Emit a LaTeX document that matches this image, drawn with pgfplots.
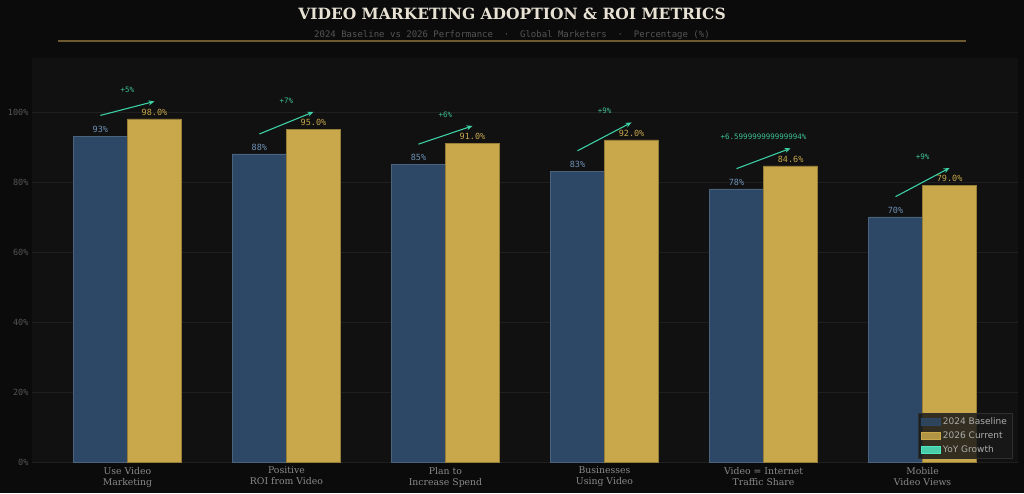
\documentclass[border=0pt]{standalone}
\usepackage{fontspec}
\setmainfont{DejaVu Serif}
\newfontfamily\monofont{DejaVu Sans Mono}
\newfontfamily\sansfont{DejaVu Sans}
\usepackage{pgfplots}
\pgfplotsset{compat=1.18}
\usepackage{pgfplotstable}
\usetikzlibrary{arrows.meta}

\definecolor{bgouter}{HTML}{0B0B0B}
\definecolor{bgplot}{HTML}{111111}
\definecolor{gridc}{HTML}{1F1F1F}
\definecolor{bluebar}{HTML}{2C4866}
\definecolor{goldbar}{HTML}{C8A84B}
\definecolor{bluelab}{HTML}{6F93B9}
\definecolor{goldlab}{HTML}{C8A84B}
\definecolor{tealarrow}{HTML}{3CCFA4}
\definecolor{teallab}{HTML}{3DBF96}
\definecolor{tealleg}{HTML}{4DE8C0}
\definecolor{titlec}{HTML}{E8E2D4}
\definecolor{subc}{HTML}{555555}
\definecolor{goldline}{HTML}{6E5A30}
\definecolor{tickc}{HTML}{555555}
\definecolor{xlabc}{HTML}{8A8A8A}

\pgfplotstableread{
x base cur
0 93 98
1 88 95
2 85 91
3 83 92
4 78 84.6
5 70 79
}\bars

\pgfplotstableread{
x y u v
-0.17 99 0.34 4
0.83 93.7 0.34 6.3
1.83 90.8 0.34 5.2
2.83 88.9 0.34 8.1
3.83 83.8 0.34 5.8
4.83 75.8 0.34 8.2
}\arrows

\pgfplotstableread{
x y lab
0 106.3 +5
1 103.1 +7
2 99.3 +6
3 100.3 +9
4 92.9 +6.599999999999994
5 87.3 +9
}\growth

\begin{document}
\begin{tikzpicture}[x=1pt,y=1pt]
\fill[bgouter] (0,0) rectangle (1024,493);
\path[use as bounding box] (0,0) rectangle (1024,493);
\node[font=\bfseries\fontsize{15.5}{18}\selectfont, text=titlec] at (512,479) {VIDEO MARKETING ADOPTION \& ROI METRICS};
\node[font=\monofont\fontsize{9}{11}\selectfont, text=subc] at (512,458) {2024 Baseline vs 2026 Performance \ · \ Global Marketers \ · \ Percentage (\%)};
\draw[goldline, line width=2pt] (58,452) -- (966,452);
\begin{axis}[
  at={(32pt,31pt)}, anchor=south west,
  scale only axis, width=986pt, height=404pt,
  xmin=-0.6, xmax=5.6, ymin=0, ymax=115.4,
  axis background/.style={fill=bgplot},
  axis line style={draw=none},
  major tick length=0pt,
  ymajorgrids, major grid style={gridc, line width=0.8pt},
  ytick={0,20,40,60,80,100},
  yticklabels={0\%,20\%,40\%,60\%,80\%,100\%},
  yticklabel style={font=\monofont\fontsize{8.5}{10}\selectfont, text=tickc},
  xtick={0,...,5},
  xticklabels={Use Video\\Marketing, Positive\\ROI from Video, Plan to\\Increase Spend, Businesses\\Using Video, Video = Internet\\Traffic Share, Mobile\\Video Views},
  xticklabel style={font=\fontsize{9.3}{11}\selectfont, text=xlabc, align=center, yshift=-1.5pt},
  legend style={at={(0.994,0.008)}, anchor=south east, fill=black!90!white, fill opacity=0.85, text opacity=1, draw=white!18!black, font=\sansfont\fontsize{9}{10}\selectfont, text=white!68!black, row sep=1.5pt, inner sep=3pt},
  legend cell align=left,
  nodes near coords style={font=\monofont\fontsize{8.5}{10}\selectfont},
]
\addplot[ybar, bar width=0.34, bar shift=0, fill=bluebar, draw=bluebar!85!white, line width=0.5pt,
  legend image code/.code={\draw[fill=bluebar, draw=bluebar] (0pt,-3.5pt) rectangle (19pt,3.5pt);},
  nodes near coords={\pgfmathprintnumber[fixed,precision=0]{\pgfplotspointmeta}\%},
  nodes near coords style={text=bluelab},
  /pgf/number format/assume math mode=true]
  table[x expr=\thisrow{x}-0.17,y=base] {\bars};
\addlegendentry{2024 Baseline}
\addplot[ybar, bar width=0.34, bar shift=0, fill=goldbar, draw=goldbar!75!black, line width=0.6pt,
  legend image code/.code={\draw[fill=goldbar, draw=goldbar] (0pt,-3.5pt) rectangle (19pt,3.5pt);},
  nodes near coords={\pgfmathprintnumber[fixed,fixed zerofill,precision=1]{\pgfplotspointmeta}\%},
  nodes near coords style={text=goldlab},
  /pgf/number format/assume math mode=true]
  table[x expr=\thisrow{x}+0.17,y=cur] {\bars};
\addlegendentry{2026 Current}
\addlegendimage{legend image code/.code={\draw[fill=tealleg, draw=tealleg] (0pt,-3.5pt) rectangle (19pt,3.5pt);}}
\addlegendentry{YoY Growth}
\addplot[forget plot, tealarrow, line width=1.1pt, -{Stealth[length=6pt,width=5pt]}, quiver={u=\thisrow{u}, v=\thisrow{v}}]
  table[x=x,y=y] {\arrows};
\addplot[forget plot, only marks, mark=none, point meta=explicit symbolic,
  nodes near coords={\pgfplotspointmeta\%},
  nodes near coords align={center},
  nodes near coords style={text=teallab, font=\monofont\fontsize{7.5}{9}\selectfont}]
  table[x=x,y=y,meta=lab] {\growth};
\end{axis}
\end{tikzpicture}
\end{document}
